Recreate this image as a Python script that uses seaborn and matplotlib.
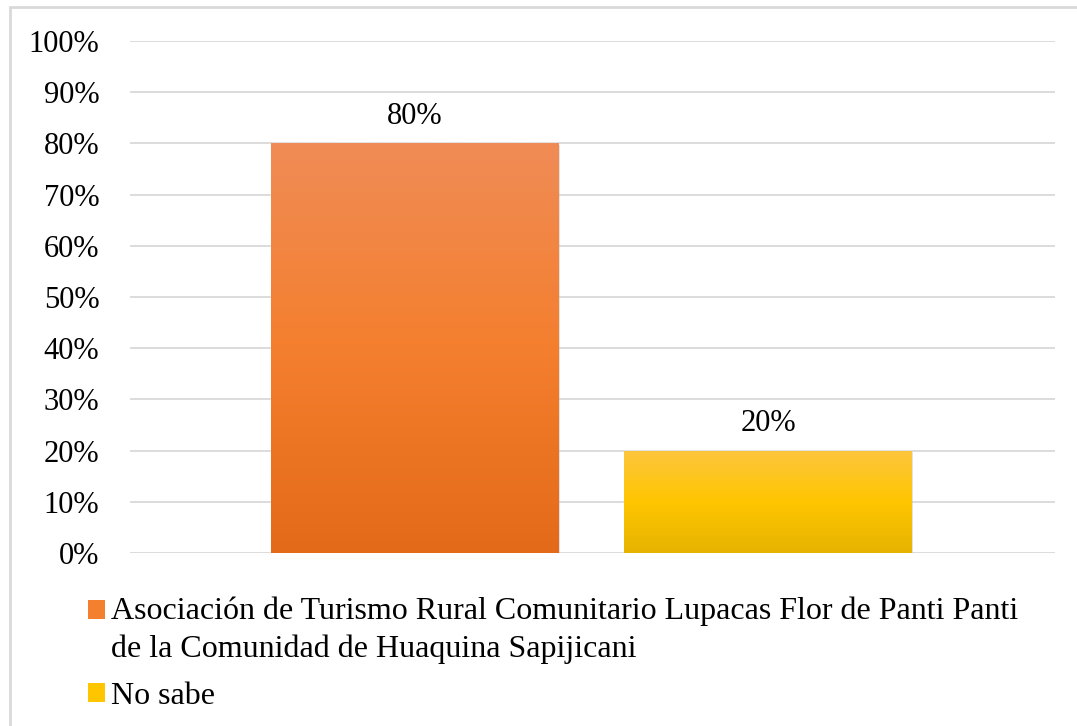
import numpy as np
import pandas as pd
import seaborn as sns
import matplotlib
matplotlib.use("Agg")
import matplotlib.pyplot as plt
from matplotlib.colors import LinearSegmentedColormap
from matplotlib.patches import Rectangle
import matplotlib.patheffects as pe

# ---- data ----
categories = [
    "Asociación de Turismo Rural Comunitario Lupacas Flor de Panti Panti\nde la Comunidad de Huaquina Sapijicani",
    "No sabe",
]
values = [80, 20]
tick_values = [0, 10, 20, 30, 40, 50, 60, 70, 80, 90, 100]
tick_labels = [f"{t}%" for t in tick_values]

# ---- styles ----
base_colors = ["#F47F2E", "#FFC600"]
gradients = [
    ["#E36A18", "#F47F2E", "#F08C56"],   # bottom, middle, top
    ["#E6B300", "#FFC600", "#FDC53E"],
]

sns.set_theme(style="white")
plt.rcParams["font.family"] = ["Liberation Serif", "DejaVu Serif"]
FS = 23
FS_AX = 22

fig = plt.figure(figsize=(10.77, 7.26), dpi=100)
ax = fig.add_axes([130 / 1077, 1 - 553 / 726, (1055 - 130) / 1077, (553 - 41) / 726])

df = pd.DataFrame({"cat": categories, "val": values})
sns.barplot(data=df, x="cat", y="val", hue="cat", palette=base_colors,
            dodge=False, width=0.813, saturation=1, legend=False, ax=ax,
            errorbar=None)

# gradient fills + subtle shadow
for patch, grad in zip(ax.patches, gradients):
    x0, y0 = patch.get_x(), patch.get_y()
    w, h = patch.get_width(), patch.get_height()
    patch.set_path_effects([pe.SimplePatchShadow(offset=(1.2, -1.2), shadow_rgbFace="#999999", alpha=0.35), pe.Normal()])
    cmap = LinearSegmentedColormap.from_list("g", grad)
    g = np.linspace(0, 1, 256).reshape(-1, 1)
    im = ax.imshow(g, extent=[x0, x0 + w, y0, y0 + h], origin="lower",
                   aspect="auto", cmap=cmap, zorder=patch.get_zorder() + 0.1)
    im.set_clip_path(patch)

# data labels
for cont, v in zip(ax.containers, values):
    ax.bar_label(cont, labels=[f"{v}%"], padding=9, fontsize=FS_AX, color="black", zorder=5)

ax.set_xlim(-0.807, 1.813)
ax.set_ylim(0, 100)
ax.set_yticks(tick_values)
ax.set_yticklabels(tick_labels)
ax.set_xticks([])
ax.set_xlabel("")
ax.set_ylabel("")
ax.tick_params(axis="y", length=0, pad=22, labelsize=FS_AX, labelcolor="black")
ax.yaxis.grid(True, color="#d9d9d9", linewidth=1.3)
ax.set_axisbelow(True)
for s in ax.spines.values():
    s.set_visible(False)

# legend
handles = [Rectangle((0, 0), 1, 1, facecolor=c, edgecolor="none") for c in base_colors]
leg = fig.legend(handles, categories, loc="upper left",
                 bbox_to_anchor=(88 / 1077, 1 - 596 / 726), frameon=False,
                 fontsize=FS, handlelength=0.53, handleheight=0.53,
                 handletextpad=0.2, labelspacing=0.58, borderpad=0, borderaxespad=0)
for t in leg.get_texts():
    t.set_color("black")
    t.set_linespacing(1.38)
# align the first marker with the first line of its two-line label
h0 = leg.legend_handles[0]
h0.set_y(h0.get_y() + 14.5)

# outer border (chart area frame)
fig.patches.append(Rectangle((10 / 1077, -0.1), 1.2, 1 - 7 / 726 + 0.1,
                             transform=fig.transFigure, facecolor="none",
                             edgecolor="#d9d9d9", linewidth=2, zorder=0))

fig.savefig("out.png", dpi=100)
